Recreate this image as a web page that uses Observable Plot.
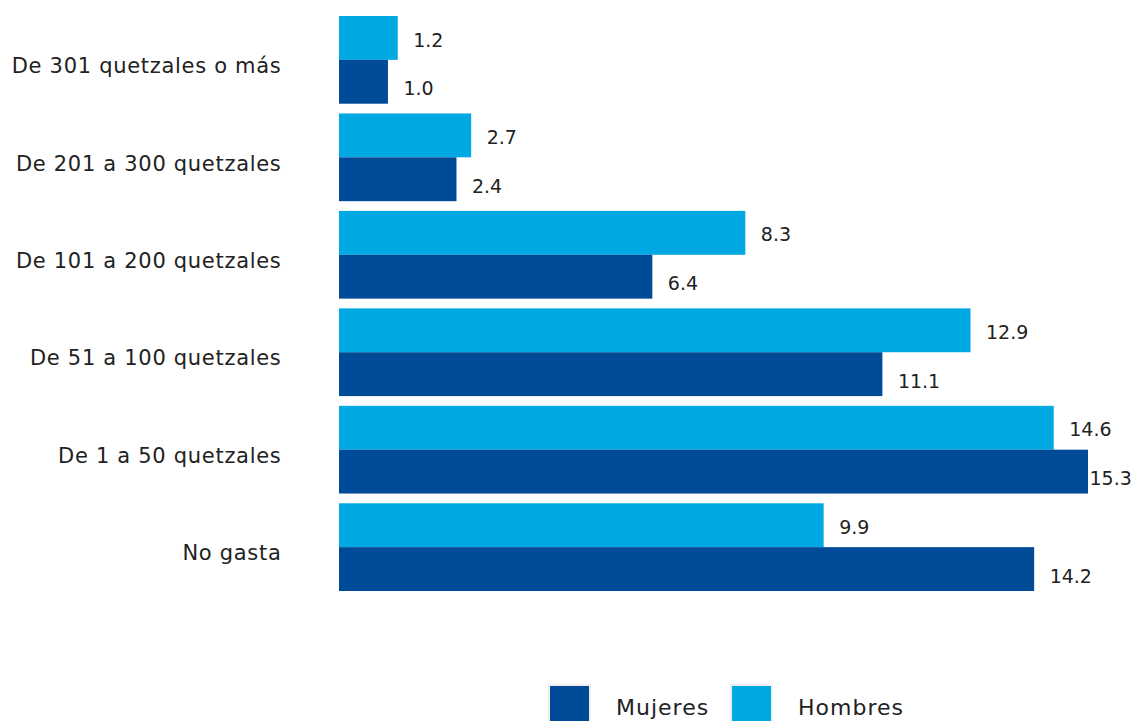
<!DOCTYPE html>
<html>
<head>
<meta charset="utf-8">
<script src="https://cdn.jsdelivr.net/npm/d3@7"></script>
<script src="https://cdn.jsdelivr.net/npm/@observablehq/plot@0.6"></script>
<style>
  html, body { margin: 0; padding: 0; background: #fff; }
  body { width: 1132px; height: 721px; overflow: hidden; font-family: "DejaVu Sans", sans-serif; color: #222; }
  #legend { position: absolute; left: 0; top: 684px; width: 1132px; height: 60px; font-size: 22px; letter-spacing: 1px; }
  .sw { position: absolute; top: 0; width: 39px; height: 41px; border: 2px solid #eeeeee; box-sizing: content-box; }
  .lab { position: absolute; top: 11px; }
  g[aria-label="fy-axis tick label"] text { letter-spacing: 0.7px; }
</style>
</head>
<body>
<div id="chart"></div>
<div id="legend">
  <span class="sw" style="left:548px;background:#004B98"></span><span class="lab" style="left:616px">Mujeres</span>
  <span class="sw" style="left:730px;background:#00A8E4"></span><span class="lab" style="left:798px">Hombres</span>
</div>
<script>
const categories = ["De 301 quetzales o más", "De 201 a 300 quetzales", "De 101 a 200 quetzales", "De 51 a 100 quetzales", "De 1 a 50 quetzales", "No gasta"];
const hombres = [1.2, 2.7, 8.3, 12.9, 14.6, 9.9];
const mujeres = [1.0, 2.4, 6.4, 11.1, 15.3, 14.2];
const sexes = ["Hombres", "Mujeres"];
const colors = ["#00A8E4", "#004B98"];

const data = [];
categories.forEach((c, i) => {
  data.push({cat: c, sex: "Hombres", value: hombres[i]});
  data.push({cat: c, sex: "Mujeres", value: mujeres[i]});
});
const fmt = d3.format(".1f");

const chart = Plot.plot({
  width: 1132,
  height: 640,
  marginLeft: 339,
  marginRight: 0,
  marginTop: 16,
  marginBottom: 49,
  style: {fontFamily: "DejaVu Sans, sans-serif", fontSize: "19px", color: "#222", background: "#fff"},
  x: {domain: [0, 15.3], range: [339, 1088], axis: null},
  fy: {domain: categories, paddingInner: 0.1, paddingOuter: 0, round: false, label: null},
  y: {domain: sexes, padding: 0, round: false, axis: null},
  color: {domain: sexes, range: colors},
  marks: [
    Plot.axisFy({anchor: "left", tickSize: 0, tickPadding: 58, fontSize: 21, label: null, dy: 6, fill: "#222"}),
    Plot.barX(data, {fy: "cat", y: "sex", x: "value", fill: "sex"}),
    Plot.text(data.filter(d => d.sex === "Hombres"), {fy: "cat", y: "sex", x: "value", text: d => fmt(d.value), textAnchor: "start", dx: 15, dy: 2, fill: "#222", fontSize: 19}),
    Plot.text(data.filter(d => d.sex === "Mujeres" && d.value < 15), {fy: "cat", y: "sex", x: "value", text: d => fmt(d.value), textAnchor: "start", dx: 15, dy: 7, fill: "#222", fontSize: 19}),
    Plot.text(data.filter(d => d.sex === "Mujeres" && d.value >= 15), {fy: "cat", y: "sex", x: "value", text: d => fmt(d.value), textAnchor: "start", dx: 1, dy: 7, fill: "#222", fontSize: 19})
  ]
});
document.getElementById("chart").appendChild(chart);
</script>
</body>
</html>
